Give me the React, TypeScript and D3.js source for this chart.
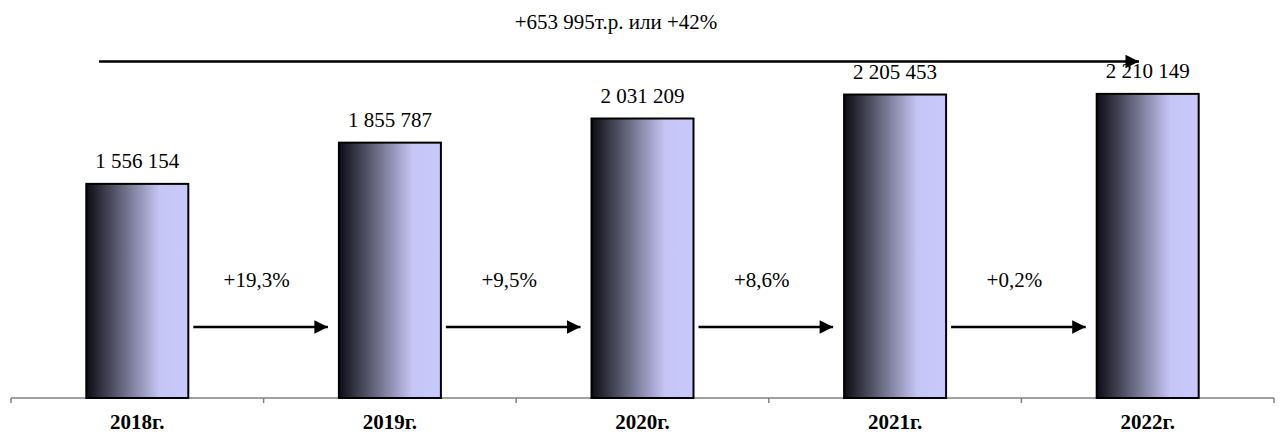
import React from "react";
import * as d3 from "d3";

const categories = ["2018г.", "2019г.", "2020г.", "2021г.", "2022г."];
const values = [1556154, 1855787, 2031209, 2205453, 2210149];
const valueLabels = ["1 556 154", "1 855 787", "2 031 209", "2 205 453", "2 210 149"];
const growthLabels = ["+19,3%", "+9,5%", "+8,6%", "+0,2%"];
const totalLabel = "+653 995т.р. или +42%";

const W = 1280;
const H = 434;
const axisY = 398;
const x0 = 11;
const x1 = 1274;

const textStyle: React.CSSProperties = { fontFamily: "'Liberation Serif'", fontSize: "21px" };

export default function App() {
  const x = d3.scaleBand<string>().domain(categories).range([x0, x1]).paddingInner(0).paddingOuter(0);
  const y = d3.scaleLinear().domain([0, 2500000]).range([axisY, axisY - 344]);
  const bw = 102;
  const cx = (c: string) => (x(c) as number) + x.bandwidth() / 2;

  return (
    <svg width={W} height={H} style={{ position: "absolute", left: 0, top: 0 }}>
      <defs>
        <linearGradient id="barGrad" x1="0" x2="1" y1="0" y2="0">
          <stop offset="0" stopColor="#0c0c14" />
          <stop offset="0.35" stopColor="#66667e" />
          <stop offset="0.72" stopColor="#c6c6f6" />
          <stop offset="1" stopColor="#c8c8fa" />
        </linearGradient>
        <marker id="ah" viewBox="0 0 10 10" refX="10" refY="5" markerWidth="6" markerHeight="5.4" orient="auto" markerUnits="strokeWidth">
          <path d="M0,0 L10,5 L0,10 Z" fill="#000" />
        </marker>
      </defs>
      <rect width={W} height={H} fill="#fff" />

      <text x={616} y={29} style={textStyle} textAnchor="middle" fill="#000">{totalLabel}</text>
      <line x1={99} x2={1139} y1={61.5} y2={61.5} stroke="#000" strokeWidth={2.5} markerEnd="url(#ah)" />

      <line x1={x0} x2={x1} y1={axisY} y2={axisY} stroke="#808080" strokeWidth={1.5} />
      {d3.range(categories.length + 1).map((i) => {
        const xx = x0 + i * x.bandwidth();
        return <line key={i} x1={xx} x2={xx} y1={axisY} y2={axisY + 5} stroke="#808080" strokeWidth={1.5} />;
      })}

      {categories.map((c, i) => (
        <g key={c}>
          <rect
            x={cx(c) - bw / 2}
            y={y(values[i])}
            width={bw}
            height={axisY - y(values[i])}
            fill="url(#barGrad)"
            stroke="#000"
            strokeWidth={2}
          />
          <text x={cx(c)} y={y(values[i]) - 16} style={textStyle} textAnchor="middle" fill="#000">
            {valueLabels[i]}
          </text>
          <text x={cx(c)} y={429} style={{ ...textStyle, fontWeight: "bold" }} textAnchor="middle" fill="#000">
            {c}
          </text>
        </g>
      ))}

      {growthLabels.map((g, i) => {
        const a = cx(categories[i]) + bw / 2 + 5;
        const b = cx(categories[i + 1]) - bw / 2 - 11;
        const mid = x0 + (i + 1) * x.bandwidth() - 7;
        return (
          <g key={g}>
            <text x={mid} y={287} style={textStyle} textAnchor="middle" fill="#000">{g}</text>
            <line x1={a} x2={b} y1={327} y2={327} stroke="#000" strokeWidth={2.5} markerEnd="url(#ah)" />
          </g>
        );
      })}
    </svg>
  );
}
